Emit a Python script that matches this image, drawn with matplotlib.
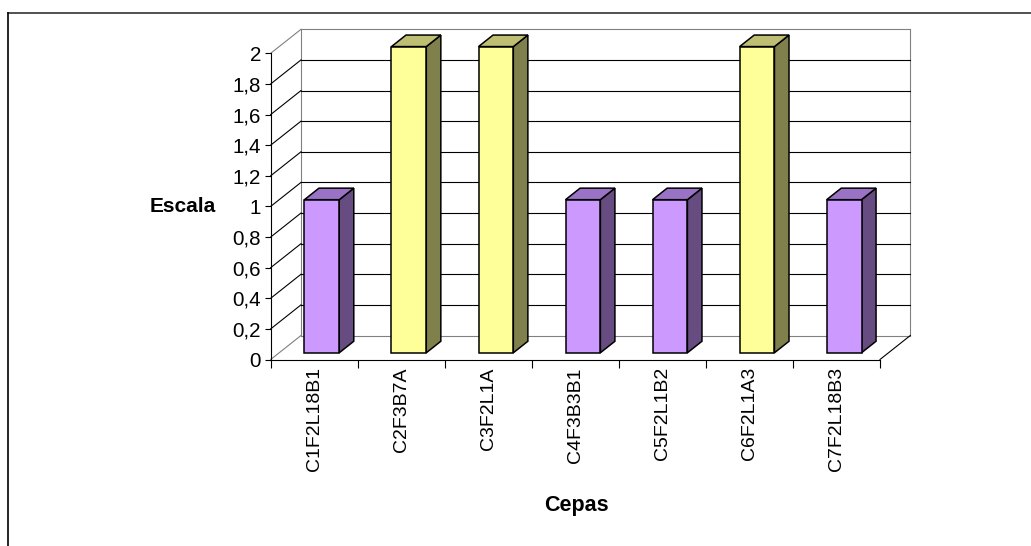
import matplotlib
matplotlib.use("Agg")
import matplotlib.pyplot as plt
from matplotlib.patches import Polygon
from matplotlib.lines import Line2D

# ---- data ----
categories = ["C1F2L18B1", "C2F3B7A", "C3F2L1A", "C4F3B3B1", "C5F2L1B2", "C6F2L1A3", "C7F2L18B3"]
values = [1, 2, 2, 1, 1, 2, 1]
y_ticks = [0, 0.2, 0.4, 0.6, 0.8, 1.0, 1.2, 1.4, 1.6, 1.8, 2.0]
y_tick_labels = ["0", "0,2", "0,4", "0,6", "0,8", "1", "1,2", "1,4", "1,6", "1,8", "2"]
x_title = "Cepas"
y_title = "Escala"

# ---- styles ----
bar_face = ["#CC99FF", "#FFFF99", "#FFFF99", "#CC99FF", "#CC99FF", "#FFFF99", "#CC99FF"]
bar_side = {"#CC99FF": "#664C80", "#FFFF99": "#80804C"}
bar_top = {"#CC99FF": "#9B73C6", "#FFFF99": "#BFBF73"}

plt.rcParams['font.family'] = ['Liberation Sans', 'DejaVu Sans']

W, H = 1031, 546
fig = plt.figure(figsize=(W / 100, H / 100), dpi=100)
fig.patch.set_facecolor("white")

# front plane of the 3D plot, in pixels
x0, x1 = 270.7, 880.0
yb, yt = 359.5, 53.3
ax = fig.add_axes([x0 / W, 1 - yb / H, (x1 - x0) / W, (yb - yt) / H])
n = len(categories)
ymax = y_ticks[-1]
ax.set_xlim(0, n)
ax.set_ylim(0, ymax)
ax.patch.set_visible(False)

# depth offset in data units
DX = 30.3 / ((x1 - x0) / n)
DY = 24.0 / ((yb - yt) / ymax)

gray = "#808080"
def seg(p, q, color, lw=0.8, z=1):
    ax.add_line(Line2D([p[0], q[0]], [p[1], q[1]], color=color, lw=lw,
                       clip_on=False, zorder=z))

# walls
seg((DX, ymax + DY), (n + DX, ymax + DY), gray)
seg((n + DX, DY), (n + DX, ymax + DY), gray)
seg((DX, DY), (n + DX, DY), gray)
seg((DX, DY), (DX, ymax + DY), gray)
seg((0, ymax), (DX, ymax + DY), gray)
seg((0, 0), (DX, DY), gray)
seg((n, 0), (n + DX, DY), "black")
for t in y_ticks[1:-1]:
    seg((DX, t + DY), (n + DX, t + DY), "black")
    seg((0, t), (DX, t + DY), "black")

# bars
w = 0.40
f0, f1 = 0.28, 0.76
for i, (v, fc) in enumerate(zip(values, bar_face)):
    c = i + 0.49
    xl, xr = c - w / 2, c + w / 2
    front = [(xl + f0 * DX, f0 * DY), (xr + f0 * DX, f0 * DY),
             (xr + f0 * DX, v + f0 * DY), (xl + f0 * DX, v + f0 * DY)]
    side = [(xr + f0 * DX, f0 * DY), (xr + f1 * DX, f1 * DY),
            (xr + f1 * DX, v + f1 * DY), (xr + f0 * DX, v + f0 * DY)]
    top = [(xl + f0 * DX, v + f0 * DY), (xr + f0 * DX, v + f0 * DY),
           (xr + f1 * DX, v + f1 * DY), (xl + f1 * DX, v + f1 * DY)]
    for poly, col in ((side, bar_side[fc]), (top, bar_top[fc]), (front, fc)):
        ax.add_patch(Polygon(poly, closed=True, facecolor=col, edgecolor="black",
                             lw=1.1, joinstyle="miter", clip_on=False, zorder=3))

# axes
for s in ("top", "right"):
    ax.spines[s].set_visible(False)
for s in ("left", "bottom"):
    ax.spines[s].set_color("black")
    ax.spines[s].set_linewidth(0.8)
ax.set_yticks(y_ticks)
ax.set_yticklabels(y_tick_labels)
ax.tick_params(axis='y', direction='out', length=4, width=0.8, pad=3,
               labelsize=14.8, colors="black")
ax.set_xticks([i + 0.5 for i in range(n)])
ax.set_xticklabels(categories, rotation=90, va="top", ha="center")
ax.set_xticks(list(range(n + 1)), minor=True)
ax.tick_params(axis='x', which='major', length=0, pad=5.5, labelsize=14.0)
ax.tick_params(axis='x', which='minor', direction='out', length=5.5, width=0.8)

fig.text(183 / W, 1 - 207 / H, y_title, ha="center", va="center",
         fontsize=15, fontweight="bold")
fig.text(576 / W, 1 - 505 / H, x_title, ha="center", va="center",
         fontsize=15.5, fontweight="bold")

# outer frame (partially visible)
fig.add_artist(Line2D([8 / W, 1.0], [1 - 13 / H, 1 - 13 / H], transform=fig.transFigure,
                      color="#333333", lw=1.2))
fig.add_artist(Line2D([8 / W, 8 / W], [1 - 13 / H, 0.0], transform=fig.transFigure,
                      color="black", lw=1.2))

fig.savefig("out.png", dpi=100, facecolor="white")
